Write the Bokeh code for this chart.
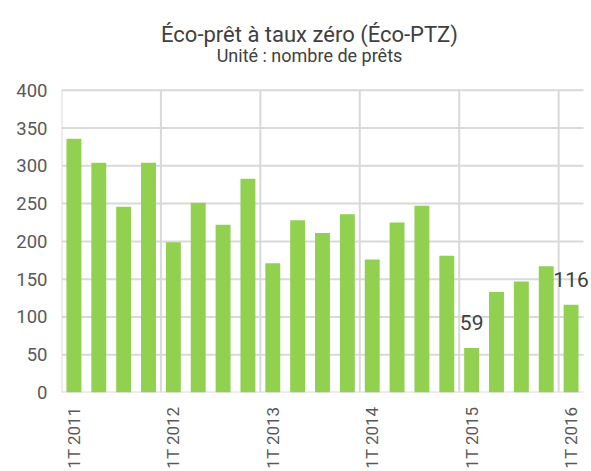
from bokeh.plotting import figure
from bokeh.models import FixedTicker, ColumnDataSource, Range1d, Label
from bokeh.embed import file_html
from bokeh.resources import INLINE
import math

quarters = []
for yr in range(2011, 2017):
    for q in ["1T", "2T", "3T", "4T"]:
        quarters.append(f"{q} {yr}")
quarters = quarters[:21]

loans = [336, 304, 246, 304, 199, 251, 222, 283, 171, 228, 211, 236,
         176, 225, 247, 181, 59, 133, 147, 167, 116]

labeled = ["1T 2015", "1T 2016"]
y_ticks = [0, 50, 100, 150, 200, 250, 300, 350, 400]
title_text = "Éco-prêt à taux zéro (Éco-PTZ)"
subtitle_text = "Unité : nombre de prêts"

FONT = "Roboto"
GREEN = "#92d050"
GRID = "#d9d9d9"

n = len(quarters)
xs = list(range(n))
src = ColumnDataSource(dict(x=xs, y=loans, q=quarters))

# frame spans whole canvas top and right so texts are not clipped;
# scale keeps 400 at y=90px and 0 at y=393px, categories 24.86px wide
y_top = 400 * 393 / 303
x_right = -0.5 + 530 / (522 / n)

p = figure(width=591, height=471, output_backend="svg", toolbar_location=None,
           x_range=Range1d(-0.5, x_right), y_range=Range1d(0, y_top),
           min_border_left=61, min_border_right=0, min_border_top=0, min_border_bottom=78)
p.outline_line_color = None
p.background_fill_color = "white"
p.border_fill_color = "white"
p.xgrid.visible = False
p.ygrid.visible = False

year_starts = [i for i, q in enumerate(quarters) if q.startswith("1T")]

# grid lines
p.segment(x0=[-0.5] * len(y_ticks), y0=y_ticks, x1=[n - 0.5] * len(y_ticks), y1=y_ticks,
          line_color=GRID, line_width=2)
vx = [i - 0.5 for i in year_starts]
p.segment(x0=vx, y0=[y_ticks[0]] * len(vx), x1=vx, y1=[y_ticks[-1]] * len(vx),
          line_color=GRID, line_width=2)

p.vbar(x="x", top="y", width=0.6, source=src, fill_color=GREEN, line_color=None)

for q in labeled:
    i = quarters.index(q)
    p.add_layout(Label(x=xs[i], y=loans[i], text=str(loans[i]), text_align="center",
                       text_baseline="alphabetic", y_offset=25, text_font=FONT,
                       text_font_size="21px", text_color="#404040"))

# titles (screen units relative to the frame's bottom-left)
p.add_layout(Label(x=248, y=358, x_units="screen", y_units="screen", text=title_text,
                   text_align="center", text_baseline="alphabetic", text_font=FONT,
                   text_font_size="22px", text_color="#404040"))
p.add_layout(Label(x=248, y=337, x_units="screen", y_units="screen", text=subtitle_text,
                   text_align="center", text_baseline="alphabetic", text_font=FONT,
                   text_font_size="18px", text_color="#404040"))

# axes
p.xaxis.ticker = FixedTicker(ticks=year_starts)
p.xaxis.major_label_overrides = {i: quarters[i] for i in year_starts}
p.xaxis.major_label_orientation = math.pi / 2
p.yaxis.ticker = FixedTicker(ticks=y_ticks)
for ax in (p.xaxis[0], p.yaxis[0]):
    ax.axis_line_color = None
    ax.major_tick_line_color = None
    ax.minor_tick_line_color = None
    ax.major_tick_out = 0
    ax.major_tick_in = 0
    ax.major_label_text_font = FONT
    ax.major_label_text_color = "#595959"
p.xaxis.major_label_text_font_size = "17px"
p.yaxis.major_label_text_font_size = "18.5px"
p.xaxis.major_label_standoff = 14
p.yaxis.major_label_standoff = 14

open("out.html", "w").write(file_html(p, INLINE))
